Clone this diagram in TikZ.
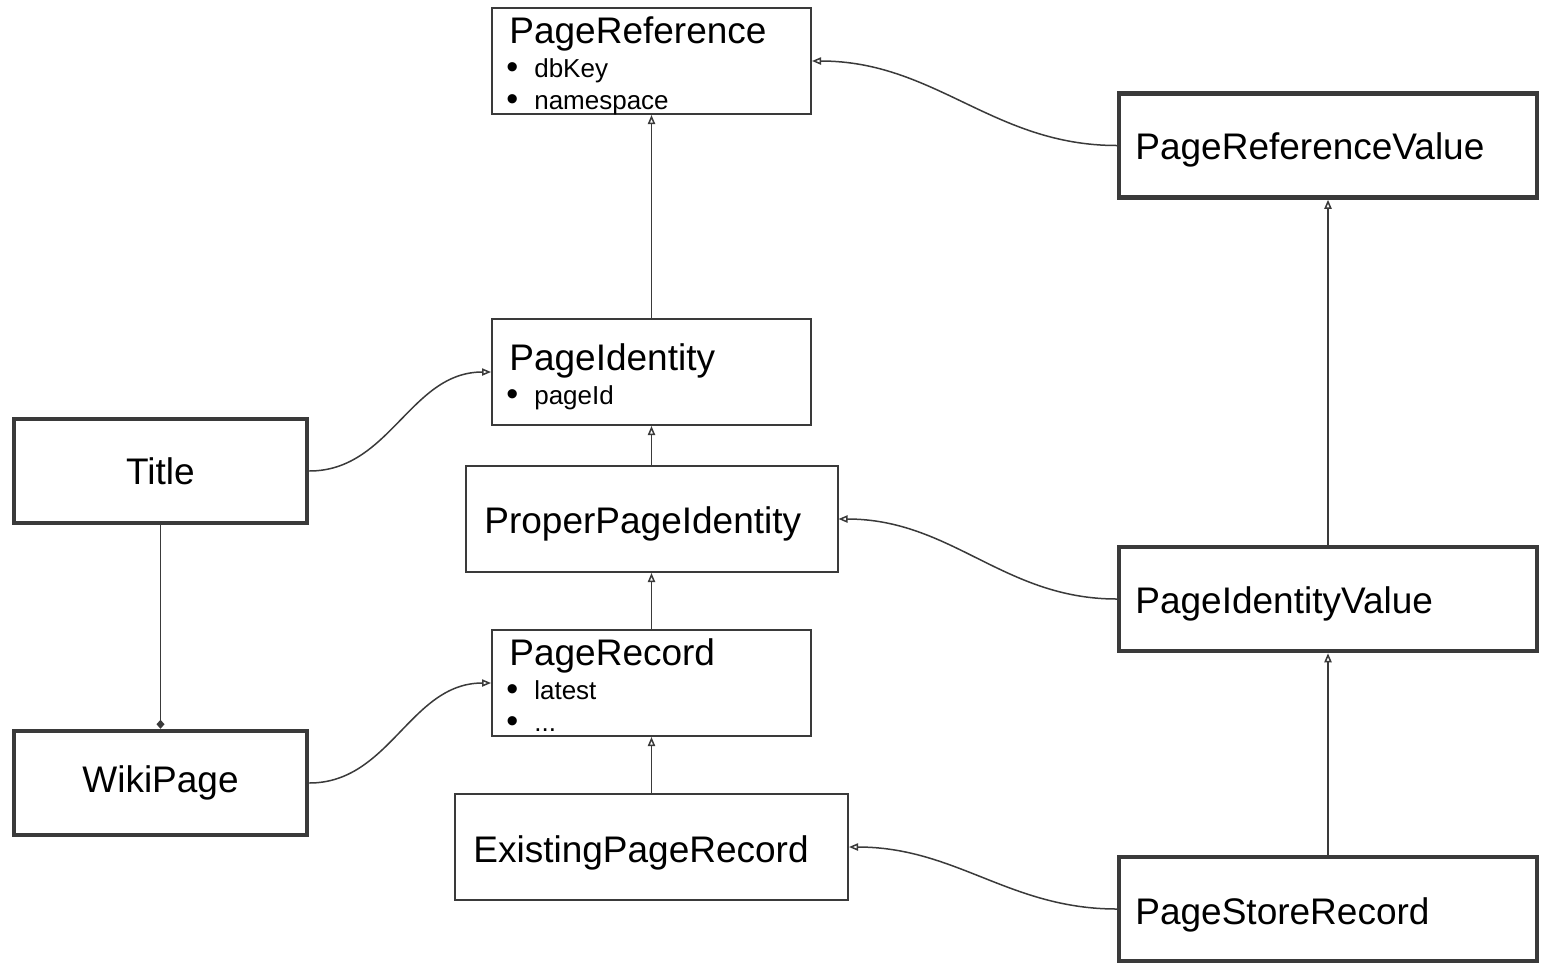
\documentclass[tikz,border=0pt]{standalone}
\usepackage{fontspec}
\setmainfont{Liberation Sans}
\usetikzlibrary{arrows.meta}
\definecolor{edge}{HTML}{3A3A3A}
\newcommand{\blt}{\raisebox{-0.8pt}{\fontsize{17}{17}\selectfont\textbullet}\hspace{8pt}}
\tikzstyle{inh} = [-{Triangle[open,length=4.5pt,width=3.6pt]}, line width=0.75pt, draw=edge]
\tikzstyle{part} = [-{Diamond[length=4.5pt,width=4pt]}, line width=0.75pt, draw=edge]
\tikzstyle{cls} = [draw=edge, line width=1pt, minimum height=53pt, inner sep=0pt]
\tikzstyle{val} = [draw=edge, line width=2.25pt, minimum height=52pt, inner sep=0pt]
\tikzstyle{big} = [font=\fontsize{18.5}{22}\selectfont, inner sep=0pt]
\tikzstyle{item} = [font=\fontsize{13}{15}\selectfont, inner sep=0pt, anchor=west, text height=10pt, text depth=3pt]

\begin{document}
\begin{tikzpicture}[x=0.5pt,y=-0.5pt]
			\useasboundingbox (0,0) rectangle (1542,966);
			% middle column
			\node[cls, minimum width=159.5pt] (pref) at (651.5,61) {};
			\node[big, anchor=base west] (prefT) at (509,43) {PageReference};
			\node[item] (prefA) at (506,70) {\blt dbKey};
			\node[item] (prefB) at (506,102) {\blt namespace};
			\node[cls, minimum width=159.5pt] (pid) at (651.5,372) {};
			\node[big, anchor=base west] (pidT) at (509,370) {PageIdentity};
			\node[item] (pidA) at (506,397) {\blt pageId};
			\node[cls, minimum width=186pt] (ppid) at (651.5,519) {};
			\node[big, anchor=base west] (ppidT) at (484,533) {ProperPageIdentity};
			\node[cls, minimum width=159.5pt] (prec) at (651.5,683) {};
			\node[big, anchor=base west] (precT) at (509,665) {PageRecord};
			\node[item] (precA) at (506,692) {\blt latest};
			\node[item] (precB) at (506,724) {\blt ...};
			\node[cls, minimum width=196.5pt] (eprec) at (651.5,847) {};
			\node[big, anchor=base west] (eprecT) at (473,862) {ExistingPageRecord};
			% left column
			\node[val, minimum width=146.5pt] (title) at (160.5,471) {};
			\node[big] (titleT) at (160.5,471) {Title};
			\node[val, minimum width=146.5pt] (wiki) at (160.5,783) {};
			\node[big] (wikiT) at (160.5,783) {WikiPage};
			% right column
			\node[val, minimum width=209pt] (prefv) at (1328,145.5) {};
			\node[big, anchor=base west] (prefvT) at (1135,159) {PageReferenceValue};
			\node[val, minimum width=209pt] (pidv) at (1328,599) {};
			\node[big, anchor=base west] (pidvT) at (1135,613) {PageIdentityValue};
			\node[val, minimum width=209pt] (psrec) at (1328,909) {};
			\node[big, anchor=base west] (psrecT) at (1135,924) {PageStoreRecord};
			% connectors
			\draw[inh] (pid.north) -- (pref.south);
			\draw[inh] (ppid.north) -- (pid.south);
			\draw[inh] (prec.north) -- (ppid.south);
			\draw[inh] (eprec.north) -- (prec.south);
			\draw[inh] (pidv.north) -- (prefv.south);
			\draw[inh] (psrec.north) -- (pidv.south);
			\draw[inh] (prefv.west) to[out=180,in=0] (pref.east);
			\draw[inh] (pidv.west) to[out=180,in=0] (ppid.east);
			\draw[inh] (psrec.west) to[out=180,in=0] (eprec.east);
			\draw[inh] (title.east) to[out=0,in=180] (pid.west);
			\draw[inh] (wiki.east) to[out=0,in=180] (prec.west);
			\draw[part] (title.south) -- (wiki.north);
		\end{tikzpicture}
\end{document}
